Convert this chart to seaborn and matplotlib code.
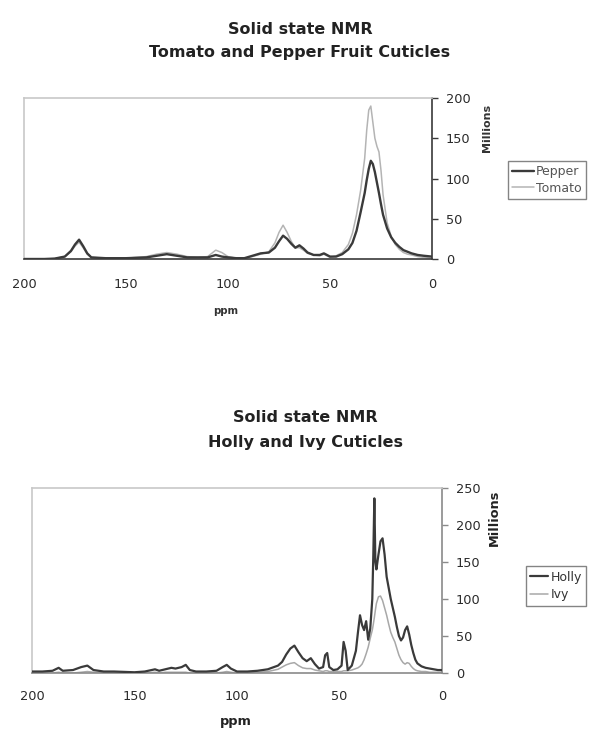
import matplotlib
matplotlib.use("Agg")
import matplotlib.pyplot as plt
import seaborn as sns
import pandas as pd

# ---------------- data: Tomato / Pepper ----------------
ppm_top = [200, 190, 185, 180, 177, 175, 173, 171, 169, 167, 160, 150, 140, 135, 130,
           125, 120, 115, 110, 106, 103, 100, 96, 92, 88, 84, 80, 77, 75, 73, 71, 69,
           67, 65, 63, 61, 58, 55, 53, 50, 47, 44, 41, 39, 37, 35, 33, 32, 31, 30, 29,
           28, 27, 26, 25, 24, 22, 20, 18, 16, 14, 12, 10, 7, 4, 0]
pepper = [0, 0, 0.5, 3, 10, 18, 24, 16, 7, 2, 1, 1, 2, 4, 6,
          4, 2, 2, 2, 5, 3, 2, 1, 1, 4, 7, 8, 14, 22, 29, 25, 19,
          14, 17, 13, 8, 5, 5, 7, 3, 3, 6, 12, 20, 35, 58, 82, 98, 112, 122, 118,
          108, 95, 82, 68, 55, 38, 27, 20, 15, 11, 9, 7, 5, 4, 3]
tomato = [0, 0, 0.5, 3, 9, 16, 21, 14, 6, 2, 1, 1, 3, 6, 8,
          6, 3, 2, 3, 11, 8, 3, 1, 1, 3, 6, 9, 20, 33, 42, 33, 22,
          14, 14, 11, 7, 5, 4, 6, 2, 4, 8, 18, 32, 55, 85, 125, 160, 185, 190, 170,
          150, 140, 133, 110, 80, 45, 28, 18, 12, 8, 6, 5, 3, 2, 1]

# ---------------- data: Holly / Ivy ----------------
ppm_bot = [200, 195, 190, 187, 185, 180, 176, 173, 170, 165, 160, 150, 145, 140, 138,
           135, 132, 130, 127, 125, 123, 120, 115, 110, 107, 105, 103, 100, 95, 90, 85,
           80, 78, 76, 74, 72, 70, 68, 66, 64, 62, 60, 58, 57, 56, 55, 53, 51, 49, 48,
           47, 46, 44, 42, 41, 40, 39, 38, 37, 36, 35, 34, 33.5, 33, 32.5, 32, 31, 30,
           29, 28, 27, 26, 25, 24, 23, 22, 21, 20, 19, 18, 17, 16, 15, 14, 13, 12, 10,
           8, 6, 4, 2, 0]
holly = [2, 2, 3, 7, 3, 4, 8, 10, 4, 2, 2, 1, 2, 5, 3,
         5, 7, 6, 8, 11, 4, 2, 2, 3, 8, 11, 6, 2, 2, 3, 5,
         10, 15, 25, 33, 37, 28, 20, 16, 20, 12, 6, 8, 24, 27, 8, 4, 5, 10, 42,
         30, 4, 10, 30, 55, 78, 65, 58, 70, 45, 60, 100, 160, 236, 150, 140, 160, 178,
         182, 160, 130, 115, 100, 88, 76, 62, 50, 44, 48, 58, 63, 52, 38, 27, 18, 13, 9,
         7, 6, 5, 4, 4]
ivy = [0, 0, 0, 1, 0, 0, 1, 2, 1, 0, 0, 0, 0, 1, 0,
       1, 1, 1, 1, 1, 0, 0, 0, 0, 1, 2, 1, 0, 0, 1, 2,
       5, 8, 11, 13, 14, 10, 7, 6, 6, 4, 3, 2, 3, 3, 2, 2, 2, 2, 3,
       3, 3, 4, 6, 7, 9, 12, 18, 26, 35, 47, 58, 66, 75, 85, 94, 103, 104,
       98, 88, 78, 66, 55, 48, 42, 33, 24, 18, 14, 12, 14, 13, 9, 6, 4, 3, 2,
       2, 1, 1, 1, 1]

xticks = [200, 150, 100, 50, 0]
yticks_top = [0, 50, 100, 150, 200]
yticks_bot = [0, 50, 100, 150, 200, 250]

title_line1 = "Solid state NMR"
title_top = "Tomato and Pepper Fruit Cuticles"
title_bot = "Holly and Ivy Cuticles"

sns.set_style("white")
plt.rcParams["font.family"] = ["DejaVu Sans"]

W, H = 595, 731
fig = plt.figure(figsize=(W / 100, H / 100), dpi=100)
fig.patch.set_facecolor("white")


def fx(px):
    return px / W


def fy(py):
    return 1 - py / H


ax1 = fig.add_axes([fx(24), fy(259), fx(432) - fx(24), fy(98) - fy(259)])
ax2 = fig.add_axes([fx(32), fy(673), fx(442) - fx(32), fy(488) - fy(673)])

df_top = pd.DataFrame({"ppm": ppm_top, "Pepper": pepper, "Tomato": tomato})
df_bot = pd.DataFrame({"ppm": ppm_bot, "Holly": holly, "Ivy": ivy})

sns.lineplot(data=df_top, x="ppm", y="Tomato", ax=ax1, color="#b4b4b4", lw=1.1,
             label="Tomato", zorder=2)
sns.lineplot(data=df_top, x="ppm", y="Pepper", ax=ax1, color="#3a3a3a", lw=1.7,
             label="Pepper", zorder=3)
sns.lineplot(data=df_bot, x="ppm", y="Ivy", ax=ax2, color="#a8a8a8", lw=1.1,
             label="Ivy", zorder=2)
sns.lineplot(data=df_bot, x="ppm", y="Holly", ax=ax2, color="#3a3a3a", lw=1.6,
             label="Holly", zorder=3)


def style(ax, yticks, axcol):
    ax.set_xlim(200, 0)
    ax.set_ylim(0, yticks[-1])
    ax.set_xticks(xticks)
    ax.set_yticks(yticks)
    ax.yaxis.tick_right()
    ax.set_xlabel("")
    ax.set_ylabel("")
    ax.set_facecolor("white")
    for s in ["left", "top"]:
        ax.spines[s].set_color("#c8c8c8")
        ax.spines[s].set_linewidth(1.2)
    for s in ["right", "bottom"]:
        ax.spines[s].set_color(axcol)
        ax.spines[s].set_linewidth(1.2)
    ax.tick_params(axis="both", direction="out", length=4, width=1.0, color=axcol,
                   labelcolor="#2a2a2a", labelsize=9.3)
    ax.tick_params(axis="y", left=False, right=True, pad=6)


style(ax1, yticks_top, "#3a3a3a")
style(ax2, yticks_bot, "#8a8a8a")
ax1.tick_params(axis="x", pad=10)
ax2.tick_params(axis="x", pad=8)

# legends
h1, l1 = ax1.get_legend_handles_labels()
order = [l1.index("Pepper"), l1.index("Tomato")]
ax1.legend([h1[i] for i in order], [l1[i] for i in order], loc="center left",
           bbox_to_anchor=(fx(508), fy(180)), bbox_transform=fig.transFigure,
           frameon=True, fancybox=False, edgecolor="#666666", fontsize=9,
           handlelength=1.7, handletextpad=0.2, borderpad=0.35, labelspacing=0.25,
           borderaxespad=0, labelcolor="#555555")
ax1.get_legend().get_frame().set_linewidth(1.0)

h2, l2 = ax2.get_legend_handles_labels()
order = [l2.index("Holly"), l2.index("Ivy")]
ax2.legend([h2[i] for i in order], [l2[i] for i in order], loc="center left",
           bbox_to_anchor=(fx(526), fy(586)), bbox_transform=fig.transFigure,
           frameon=True, fancybox=False, edgecolor="#666666", fontsize=9,
           handlelength=1.4, handletextpad=0.2, borderpad=0.35, labelspacing=0.35,
           borderaxespad=0, labelcolor="#333333")
ax2.get_legend().get_frame().set_linewidth(1.0)

# titles
fig.text(fx(300), fy(30), title_line1, ha="center", va="center", fontsize=11.5,
         fontweight="bold", color="#222222")
fig.text(fx(300), fy(53), title_top, ha="center", va="center", fontsize=11.5,
         fontweight="bold", color="#222222")
fig.text(fx(305), fy(418), title_line1, ha="center", va="center", fontsize=11.5,
         fontweight="bold", color="#222222")
fig.text(fx(305), fy(442), title_bot, ha="center", va="center", fontsize=11.5,
         fontweight="bold", color="#222222")

# axis titles
fig.text(fx(487), fy(128), "Millions", ha="center", va="center", rotation=90,
         fontsize=8, fontweight="bold", color="#333333")
fig.text(fx(494), fy(518), "Millions", ha="center", va="center", rotation=90,
         fontsize=9.3, fontweight="bold", color="#222222")
fig.text(fx(226), fy(311), "ppm", ha="center", va="center", fontsize=7.3,
         fontweight="bold", color="#333333")
fig.text(fx(236), fy(721), "ppm", ha="center", va="center", fontsize=9.3,
         fontweight="bold", color="#222222")

fig.savefig("out.png", dpi=100, facecolor="white")
